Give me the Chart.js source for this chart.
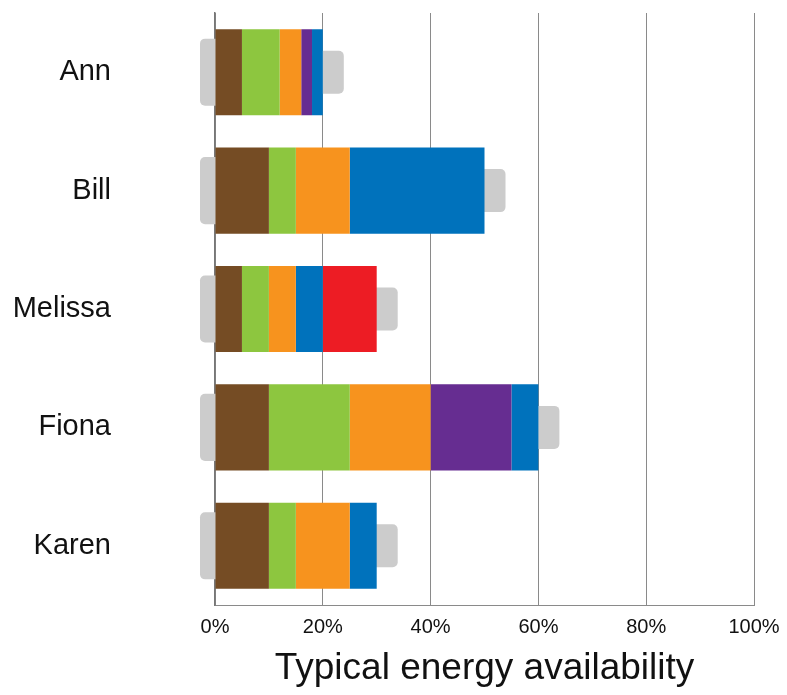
<!DOCTYPE html>
<html>
<head>
<meta charset="utf-8">
<script src="https://cdn.jsdelivr.net/npm/chart.js@4.4.1/dist/chart.umd.min.js"></script>
<style>
  html, body { margin: 0; padding: 0; background: #fff; }
  #wrap { width: 787px; height: 695px; }
</style>
</head>
<body>
<div id="wrap"><canvas id="energyChart"></canvas></div>
<script>
// data (percent of a full battery)
const people = ['Ann', 'Bill', 'Melissa', 'Fiona', 'Karen'];
const brown  = [5, 10, 5, 10, 10];
const green  = [7, 5, 5, 15, 5];
const orange = [4, 10, 5, 15, 10];
const purple = [2, 0, 0, 15, 0];
const blue   = [2, 25, 5, 5, 5];
const red    = [0, 0, 10, 0, 0];
const xTicks = [0, 20, 40, 60, 80, 100];

const labelFont = '"Helvetica Neue", "Liberation Sans", Arial, sans-serif';

// grey battery ends behind each bar
const batteryShell = {
    id: 'batteryShell',
    beforeDatasetsDraw(chart) {
        const ctx = chart.ctx;
        const xs = chart.scales.x;
        const ys = chart.scales.y;
        const meta = chart.getDatasetMeta(0);
        ctx.save();
        ctx.fillStyle = '#cccccc';
        people.forEach((name, i) => {
            const total = chart.data.datasets.reduce((s, d) => s + (d.data[i] || 0), 0);
            const h = meta.data[i].height;
            const yc = ys.getPixelForValue(i);
            const x0 = xs.getPixelForValue(0);
            const x1 = xs.getPixelForValue(total);
            ctx.beginPath();
            ctx.roundRect(x0 - 15, yc - h * 0.39, 25, h * 0.78, 5);
            ctx.fill();
            ctx.beginPath();
            ctx.roundRect(x1 - 10, yc - h * 0.25, 31, h * 0.5, 5);
            ctx.fill();
        });
        ctx.restore();
    }
};

const ctx = document.getElementById('energyChart').getContext('2d');
const energyChart = new Chart(ctx, {
    type: 'bar',
    data: {
        labels: people,
        datasets: [
            { label: 'brown',  data: brown,  backgroundColor: '#754c24' },
            { label: 'green',  data: green,  backgroundColor: '#8dc63f' },
            { label: 'orange', data: orange, backgroundColor: '#f7931e' },
            { label: 'purple', data: purple, backgroundColor: '#662d91' },
            { label: 'blue',   data: blue,   backgroundColor: '#0072bc' },
            { label: 'red',    data: red,    backgroundColor: '#ed1c24' }
        ]
    },
    options: {
        indexAxis: 'y',
        responsive: true,
        maintainAspectRatio: false,
        animation: false,
        datasets: {
            bar: {
                barPercentage: 0.727,
                categoryPercentage: 1,
                borderWidth: 0
            }
        },
        layout: {
            padding: { top: 13, right: 33, bottom: 0, left: 0 }
        },
        plugins: {
            legend: { display: false },
            tooltip: { enabled: false }
        },
        scales: {
            x: {
                stacked: true,
                min: 0,
                max: 100,
                afterBuildTicks: s => { s.ticks = xTicks.map(v => ({ value: v })); },
                afterFit: s => {
                    s.height = 90;
                    s.paddingLeft = 0;
                    s.paddingRight = 0;
                },
                grid: {
                    color: '#8a8a8a',
                    lineWidth: 1,
                    drawTicks: false
                },
                border: { color: '#8a8a8a', width: 1 },
                ticks: {
                    padding: 10,
                    color: '#111',
                    font: { family: labelFont, size: 20 },
                    callback: v => v + '%'
                },
                title: {
                    display: true,
                    text: 'Typical energy availability',
                    color: '#111',
                    font: { family: labelFont, size: 37 },
                    padding: { top: 0, bottom: 4 }
                }
            },
            y: {
                stacked: true,
                afterFit: s => {
                    s.width = 215;
                    s.paddingTop = 0;
                    s.paddingBottom = 0;
                },
                grid: { display: false },
                border: { color: '#777', width: 1.5 },
                ticks: {
                    padding: 96,
                    color: '#111',
                    font: { family: labelFont, size: 29 }
                }
            }
        }
    },
    plugins: [batteryShell]
});
</script>
</body>
</html>
